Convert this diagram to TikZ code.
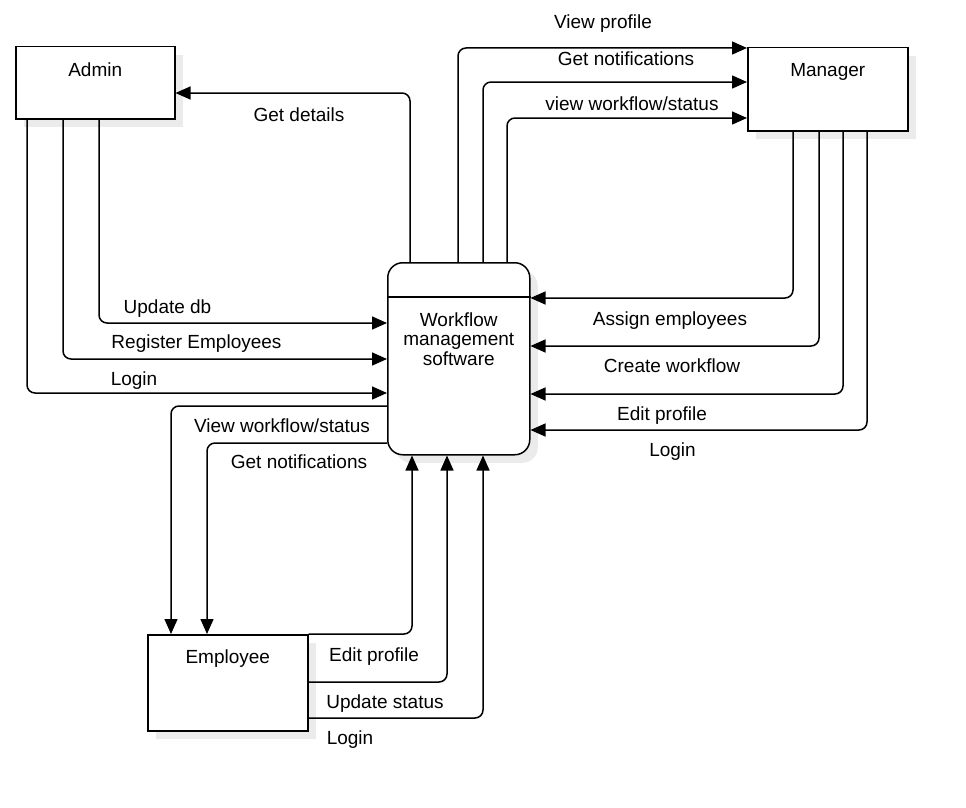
\documentclass[tikz,border=0pt]{standalone}
\usepackage{fontspec}
\setmainfont{Liberation Sans}
\usetikzlibrary{arrows.meta,calc,shadows}
\begin{document}
\begin{tikzpicture}[x=1pt,y=-1pt,
  every node/.style={font=\fontsize{19}{19.5}\selectfont},
  box/.style={draw, line width=1.5pt, fill=white, anchor=north west, inner sep=0pt,
    drop shadow={shadow xshift=8pt, shadow yshift=-8pt, fill=black!8, opacity=1}},
  txt/.style={inner sep=0pt, text height=13.5pt, text depth=0pt, anchor=center},
  flow/.style={line width=1.5pt, rounded corners=8pt, -{Triangle[length=15pt,width=13pt]}},
]
\useasboundingbox (0,0) rectangle (966,808);

% boxes
\node[box, minimum width=159pt, minimum height=72pt,
  label={[txt,label distance=-23.5pt,anchor=center]north:Admin}] (admin) at (15,46) {};
\node[box, minimum width=160pt, minimum height=83pt,
  label={[txt,label distance=-23pt,anchor=center]north:Manager}] (mgr) at (747,47) {};
\node[box, minimum width=160pt, minimum height=96pt,
  label={[txt,label distance=-23pt,anchor=center]north:Employee}] (emp) at (147,634) {};
\node[box, rounded corners=15pt, minimum width=142pt, minimum height=192pt,
  label={[align=center,yshift=20pt,anchor=center]center:Workflow\\management\\software}] (sys) at (387,262) {};
\draw[line width=1.5pt] ($(sys.north west)+(0,35)$) -- ($(sys.north east)+(0,35)$);

% Admin
\draw[flow] ($(sys.north west)+(23,0)$) |- ($(admin.north east)+(0,47)$);
\draw[flow] ($(admin.south west)+(12,0)$) |- ($(sys.north west)+(0,131)$);
\draw[flow] ($(admin.south west)+(48,0)$) |- ($(sys.north west)+(0,97)$);
\draw[flow] ($(admin.south west)+(84,0)$) |- ($(sys.north west)+(0,61)$);

% Manager in
\draw[flow] ($(sys.north west)+(71,0)$) |- ($(mgr.north west)+(0,1)$);
\draw[flow] ($(sys.north west)+(96,0)$) |- ($(mgr.north west)+(0,35)$);
\draw[flow] ($(sys.north west)+(120,0)$) |- ($(mgr.north west)+(0,71)$);

% Manager out
\draw[flow] ($(mgr.south west)+(46,0)$) |- ($(sys.north east)+(0,36)$);
\draw[flow] ($(mgr.south west)+(72,0)$) |- ($(sys.north east)+(0,84)$);
\draw[flow] ($(mgr.south west)+(96,0)$) |- ($(sys.north east)+(0,132)$);
\draw[flow] ($(mgr.south west)+(120,0)$) |- ($(sys.north east)+(0,168)$);

% System to employee
\draw[flow] ($(sys.north west)+(0,144)$) -| ($(emp.north west)+(24,0)$);
\draw[flow] ($(sys.north west)+(0,181)$) -| ($(emp.north west)+(60,0)$);

% Employee to system
\draw[flow] (emp.north east) -| ($(sys.south west)+(25,0)$);
\draw[flow] ($(emp.north east)+(0,48)$) -| ($(sys.south west)+(60,0)$);
\draw[flow] ($(emp.north east)+(0,84)$) -| ($(sys.south west)+(96,0)$);

% labels
\node[txt] (lGetDetails) at (299,115) {Get details};
\node[txt] (lUpdateDb) at (167.5,306.5) {Update db};
\node[txt] (lRegister) at (196.5,342) {Register Employees};
\node[txt] (lAdminLogin) at (134,379) {Login};

\node[txt] (lViewProfile) at (603,21.5) {View profile};
\node[txt] (lMgrNotif) at (626,58.5) {Get notifications};
\node[txt] (lMgrView) at (632,103.5) {view workflow/status};

\node[txt] (lAssign) at (670,319) {Assign employees};
\node[txt] (lCreate) at (672,366) {Create workflow};
\node[txt] (lMgrEdit) at (662,414) {Edit profile};
\node[txt] (lMgrLogin) at (672.5,450) {Login};

\node[txt] (lEmpView) at (282,426) {View workflow/status};
\node[txt] (lEmpNotif) at (299,462) {Get notifications};

\node[txt] (lEmpEdit) at (374,654.5) {Edit profile};
\node[txt] (lEmpUpdate) at (385,702) {Update status};
\node[txt] (lEmpLogin) at (350,738) {Login};
\end{tikzpicture}
\end{document}
